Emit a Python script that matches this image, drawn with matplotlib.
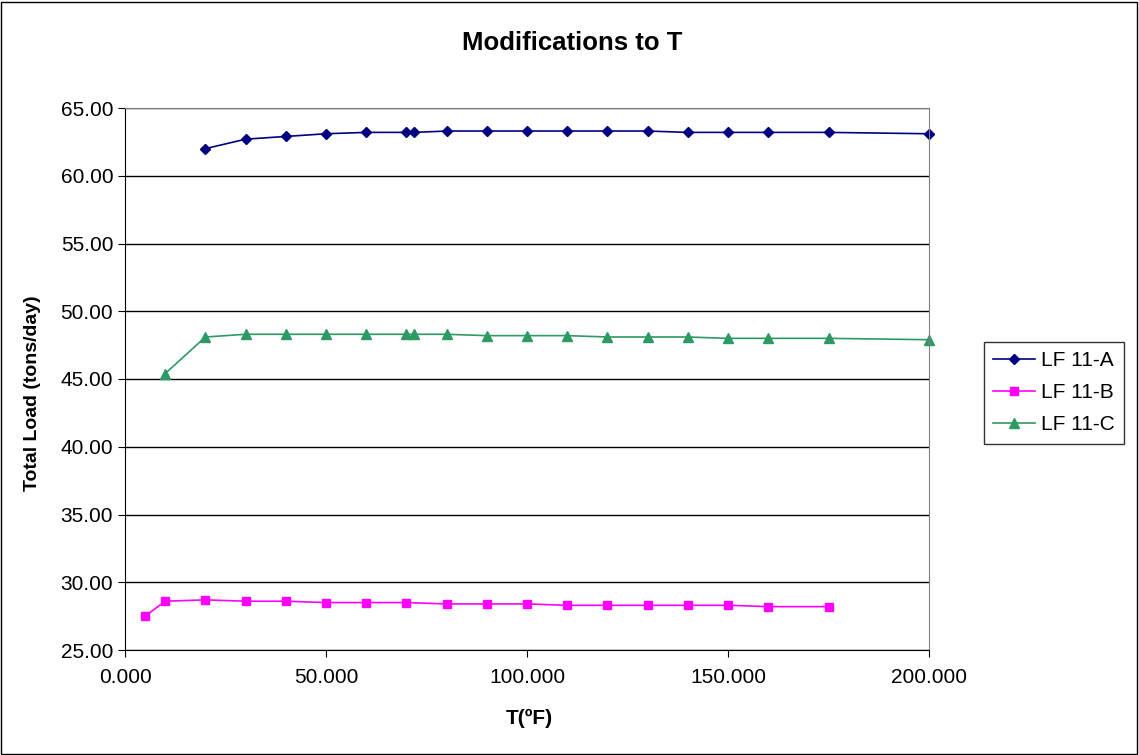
import matplotlib.pyplot as plt
from matplotlib.ticker import FormatStrFormatter
from matplotlib.patches import Rectangle

plt.rcParams["font.family"] = ["Liberation Sans", "DejaVu Sans"]

# 데이터
x_a = [20, 30, 40, 50, 60, 70, 72, 80, 90, 100, 110, 120, 130, 140, 150, 160, 175, 200]
y_a = [62.0, 62.7, 62.9, 63.1, 63.2, 63.2, 63.2, 63.3, 63.3, 63.3, 63.3, 63.3, 63.3,
       63.2, 63.2, 63.2, 63.2, 63.1]

x_b = [5, 10, 20, 30, 40, 50, 60, 70, 80, 90, 100, 110, 120, 130, 140, 150, 160, 175]
y_b = [27.5, 28.6, 28.7, 28.6, 28.6, 28.5, 28.5, 28.5, 28.4, 28.4, 28.4, 28.3, 28.3,
       28.3, 28.3, 28.3, 28.2, 28.2]

x_c = [10, 20, 30, 40, 50, 60, 70, 72, 80, 90, 100, 110, 120, 130, 140, 150, 160, 175, 200]
y_c = [45.4, 48.1, 48.3, 48.3, 48.3, 48.3, 48.3, 48.3, 48.3, 48.2, 48.2, 48.2, 48.1,
       48.1, 48.1, 48.0, 48.0, 48.0, 47.9]

W, H = 1139, 755
fig = plt.figure(figsize=(W / 100, H / 100), dpi=100)
ax = fig.add_axes([125 / W, 1 - 650 / H, (929 - 125) / W, (650 - 108) / H])

# 바깥 테두리
fig.patches.append(Rectangle((0.001, 0.001), 0.997, 0.997, transform=fig.transFigure,
                             fill=False, edgecolor="black", linewidth=1.0))

ax.plot(x_a, y_a, color="#000080", marker="D", markersize=5.5, linewidth=1.2, label="LF 11-A",
        clip_on=False)
ax.plot(x_b, y_b, color="#FF00FF", marker="s", markersize=6, linewidth=1.2, label="LF 11-B",
        clip_on=False)
ax.plot(x_c, y_c, color="#2E9A63", marker="^", markersize=7, linewidth=1.2, label="LF 11-C",
        clip_on=False)

ax.set_xlim(0, 200)
ax.set_ylim(25, 65)
ax.set_xticks([0, 50, 100, 150, 200])
ax.set_yticks([25, 30, 35, 40, 45, 50, 55, 60, 65])
ax.xaxis.set_major_formatter(FormatStrFormatter("%.3f"))
ax.yaxis.set_major_formatter(FormatStrFormatter("%.2f"))
ax.tick_params(labelsize=15, direction="out", length=5, color="black")
ax.tick_params(axis="x", pad=8)
ax.grid(axis="y", color="black", linewidth=1.0)
ax.set_axisbelow(True)

ax.spines["top"].set_color("#808080")
ax.spines["right"].set_color("#808080")
ax.spines["left"].set_color("black")
ax.spines["bottom"].set_color("black")

# 제목 / 축 라벨 — 위치 고정
fig.text(572 / W, 1 - 43 / H, "Modifications to T", fontsize=18.5, fontweight="bold",
         ha="center", va="center")
fig.text(529 / W, 1 - 718 / H, "T(ºF)", fontsize=15, fontweight="bold",
         ha="center", va="center")
fig.text(33 / W, 1 - 393 / H, "Total Load (tons/day)", fontsize=14, fontweight="bold",
         ha="center", va="center", rotation=90)

leg = ax.legend(loc="upper left", bbox_to_anchor=(984 / W, 1 - 342 / H),
                bbox_transform=fig.transFigure, borderaxespad=0, fontsize=15,
                frameon=True, fancybox=False, edgecolor="black", handlelength=2.0,
                handletextpad=0.3, borderpad=0.45, labelspacing=0.62)
leg.get_frame().set_linewidth(1.0)

fig.savefig("out.png", dpi=100)
